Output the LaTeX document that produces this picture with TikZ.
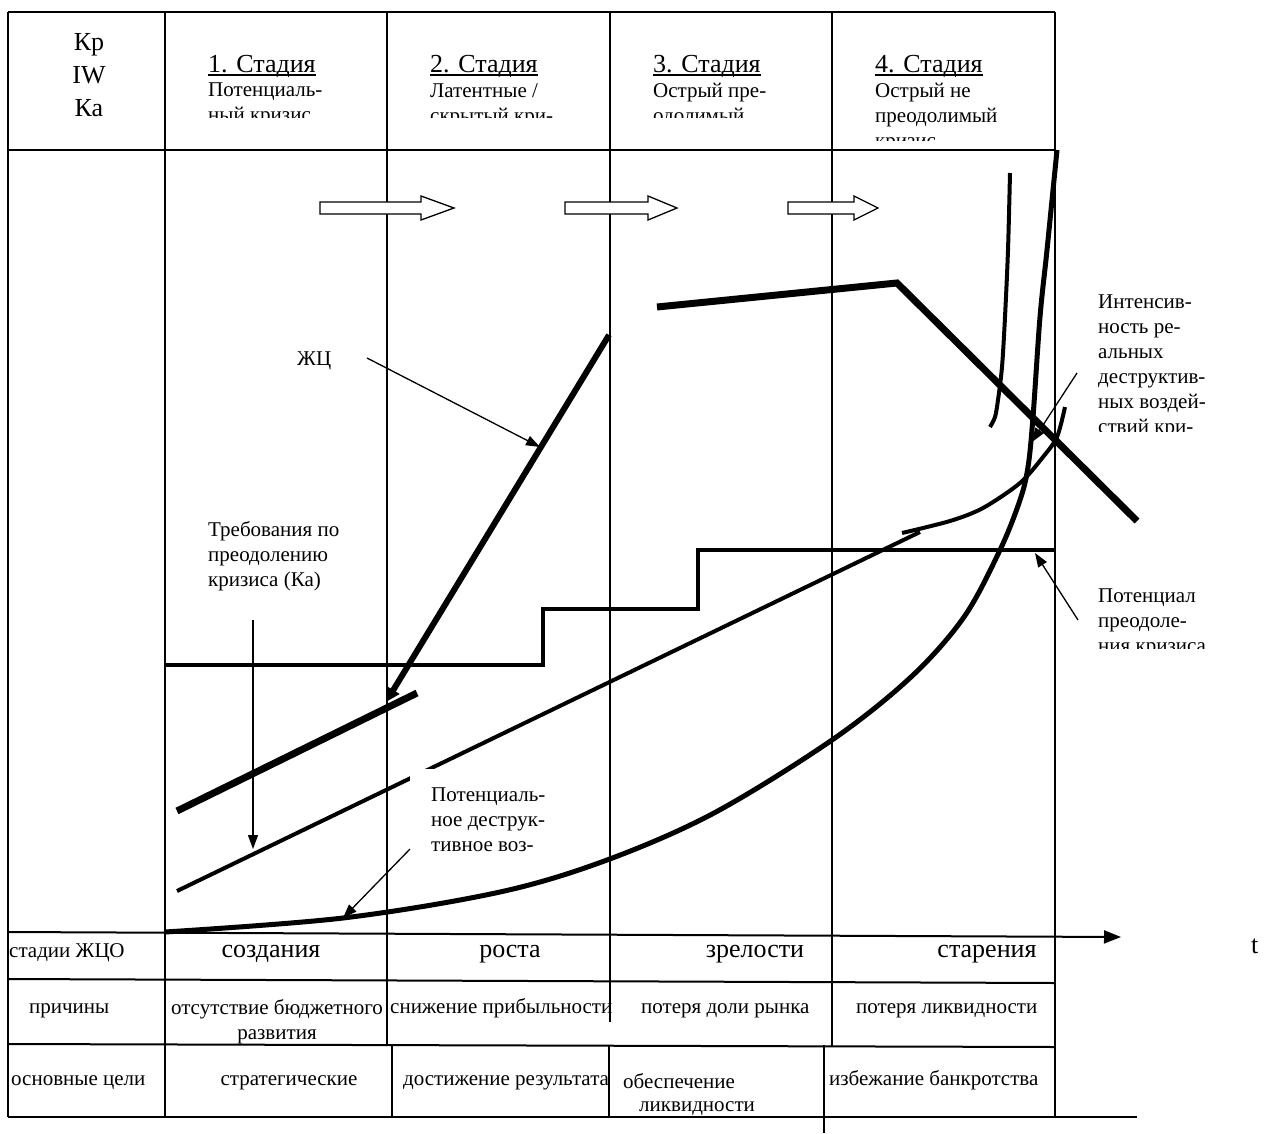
\documentclass[tikz,border=0pt]{standalone}
\usepackage{fontspec}
\setmainfont{Liberation Serif}
\usetikzlibrary{arrows.meta}

\begin{document}
\begin{tikzpicture}[x=1pt, y=-1pt,
    frame/.style={line width=2pt},
    rule/.style={line width=1.5pt},
    lcline/.style={line width=7pt},
    lcarrow/.style={line width=6pt, -{Triangle[length=14pt,width=14pt]}},
    curve/.style={line width=5pt},
    stepl/.style={line width=4pt},
    lblarrow/.style={line width=1.3pt, -{Triangle[length=14pt,width=10pt]}},
    blockarrow/.style={draw, fill=white, line width=1.3pt},
    big/.style={font=\fontsize{26}{33}\selectfont, inner sep=0pt},
    txt/.style={font=\fontsize{21}{25}\selectfont, inner sep=0pt, align=left}]

    \useasboundingbox (0,0) rectangle (1264,1133);

    % table frame and columns
    \draw[frame] (8,12) -- (1055,12);
    \draw[frame] (8,150) -- (1055,150);
    \draw[frame] (8,12) -- (8,1117);
    \draw[frame] (1055,12) -- (1055,150);
    \draw[rule] (1055,150) -- (1055,1117);
    \draw[rule] (165,12) -- (165,1117);
    \draw[rule] (387,12) -- (387,1046);
    \draw[rule] (610,12) -- (610,1022);
    \draw[rule] (832,12) -- (832,1046);

    % rows under the time axis
    \draw[frame] (8,979) -- (1055,983);
    \draw[frame] (8,1044) -- (1055,1047);
    \draw[frame] (8,1117) -- (1137,1117);
    \draw[rule] (392,1045) -- (392,1117);
    \draw[rule] (609,1045) -- (609,1117);
    \draw[rule] (824,1045) -- (824,1133);

    % time axis
    \coordinate (tend) at (1121,937);
    \draw[frame, -{Triangle[length=17pt,width=13pt]}] (8,932) -- (tend);

    % stage transition arrows
    \foreach \xa/\xb/\xc in {320/421/454, 565/648/677, 788/854/878}
        \draw[blockarrow] (\xa,202) -- (\xb,202) -- (\xb,196) -- (\xc,208)
            -- (\xb,220) -- (\xb,214) -- (\xa,214) -- cycle;

    % potential for overcoming the crisis
    \draw[stepl] (165,665) -| (543,609) -| (698,550) -- (1055,550);

    % requirements (Ka)
    \draw[stepl] (177,891) -- (920,532);

    % potential destructive impact
    \draw[curve] plot[smooth, tension=0.55] coordinates {(165,932) (343,918)
        (500,892) (607,860) (714,813) (832,740) (911,677) (964,617) (1000,550)
        (1020,500) (1028,467) (1033,417) (1040,317) (1047,250) (1057,150)};

    % intensity of real destructive impacts
    \draw[stepl] plot[smooth] coordinates {(902,533) (950,521) (983,508)
        (1020,483) (1043,457) (1057,437) (1065,407)};
    \draw[stepl] plot[smooth] coordinates {(1010,173) (1008,250) (1005,317)
        (1002,367) (998,400) (995,417) (990,427)};

    % life cycle
    \draw[lcline] (177,811) -- (417,693);
    \draw[lcarrow] (609,335) -- (386,702);
    \draw[lcline] (657,307) -- (897,283) -- (1137,521);

    % header
    \node[big, anchor=north, align=center] (kp) at (89,33) {Кр\\IW\\Ка};
    \foreach \n/\cx/\cl/\tx in {1/165/117/{Потенциаль-\\ный кризис},
            2/387/117/{Латентные /\\скрытый кри-},
            3/610/117/{Острый пре-\\одолимый},
            4/832/140/{Острый не\\преодолимый\\кризис}} {
        \node[big, anchor=base west] (h\n) at (\cx+43,72) {\n. Стадия};
        \draw[line width=1.8pt] ([yshift=-3pt]h\n.base west) -- ([yshift=-3pt]h\n.base east);
        \begin{scope}
            \clip (\cx,12) rectangle (\cx+222,\cl);
            \node[txt, anchor=north west] (d\n) at (\cx+43,83) {\tx};
        \end{scope}
    }

    % labels in the field
    \node[txt, anchor=base west] (lc) at (297,365) {ЖЦ};
    \node[txt, anchor=north west] (treb) at (208,521)
        {Требования по\\преодолению\\кризиса (Ка)};
    \begin{scope}
        \clip (1090,280) rectangle (1264,431);
        \node[txt, anchor=north west] (intens) at (1098,295)
            {Интенсив-\\ность ре-\\альных\\деструктив-\\ных воздей-\\ствий кри-};
    \end{scope}
    \begin{scope}
        \clip (1090,570) rectangle (1264,648);
        \node[txt, anchor=north west] (potp) at (1098,589)
            {Потенциал\\преодоле-\\ния кризиса};
    \end{scope}
    \fill[white] (410,769) rectangle (589,864);
    \node[txt, anchor=north west] (potd) at (431,788)
        {Потенциаль-\\ное деструк-\\тивное воз-};

    % label arrows
    \coordinate (lcS) at (367,358);
    \coordinate (lcE) at (540,447);
    \coordinate (trebS) at (253,620);
    \coordinate (trebE) at (253,849);
    \coordinate (potdS) at (410,849);
    \coordinate (potdE) at (343,918);
    \coordinate (potpS) at (1078,620);
    \coordinate (potpE) at (1035,553);
    \coordinate (intS) at (1077,373);
    \coordinate (intE) at (1032,442);
    \draw[lblarrow] (lcS) -- (lcE);
    \draw[lblarrow] (trebS) -- (trebE);
    \draw[lblarrow] (potdS) -- (potdE);
    \draw[lblarrow] (potpS) -- (potpE);
    \draw[lblarrow] (intS) -- (intE);

    % time axis label and rows
    \node[big, anchor=base west] (tlab) at (1251,953) {t};
    \node[txt, anchor=base west] (s0) at (9,957) {стадии ЖЦО};
    \node[big, anchor=base] (s1) at (271,957) {создания};
    \node[big, anchor=base] (s2) at (510,957) {роста};
    \node[big, anchor=base] (s3) at (755,957) {зрелости};
    \node[big, anchor=base] (s4) at (987,957) {старения};

    \node[txt, anchor=base west] (r0) at (29,1013) {причины};
    \node[txt, anchor=north, align=center] (r1) at (277,999)
        {отсутствие бюджетного\\развития};
    \node[txt, anchor=base west] (r2) at (390,1013) {снижение прибыльности};
    \node[txt, anchor=base west] (r3) at (641,1013) {потеря доли рынка};
    \node[txt, anchor=base west] (r4) at (856,1013) {потеря ликвидности};

    \node[txt, anchor=base west] (g0) at (11,1085) {основные цели};
    \node[txt, anchor=base] (g1) at (289,1085) {стратегические};
    \node[txt, anchor=base west] (g2) at (403,1085) {достижение результата};
    \node[txt, anchor=north west] (g3) at (623,1073)
        {обеспечение\\[-2pt]\hspace*{16pt}ликвидности};
    \node[txt, anchor=base west] (g4) at (829,1085) {избежание банкротства};

\end{tikzpicture}
\end{document}
